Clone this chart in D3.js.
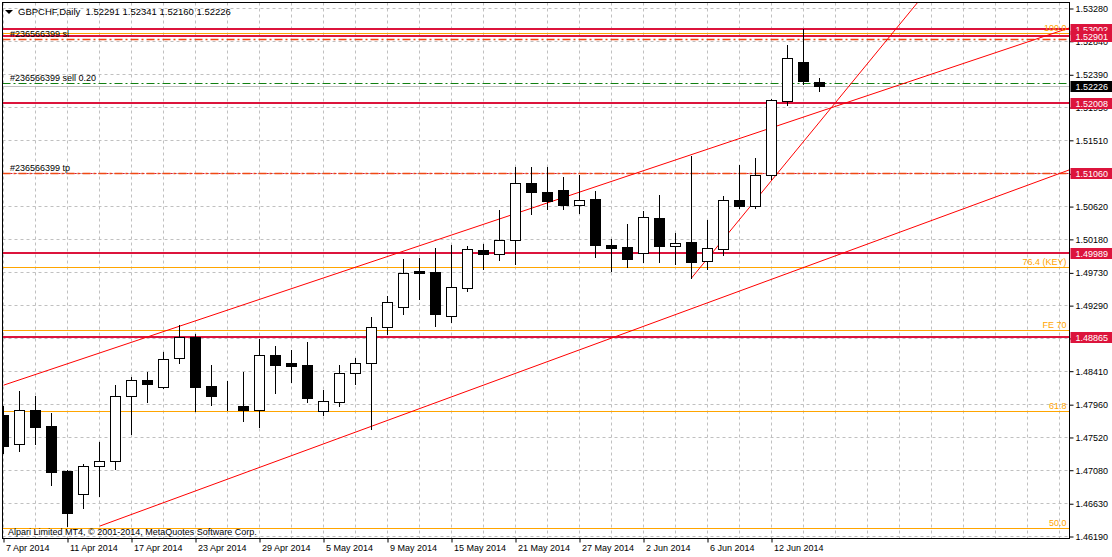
<!DOCTYPE html>
<meta charset="UTF-8">
<style>
body { margin: 0; background: #fff; }
svg text { font-family: "Liberation Sans", Arial, sans-serif; font-size: 9px; }
</style>
<body>
<script src="https://d3js.org/d3.v7.min.js"></script>
<script>

// daily bars, GBPCHF
var dates = ["2014-04-07","2014-04-08","2014-04-09","2014-04-10","2014-04-11","2014-04-14","2014-04-15","2014-04-16","2014-04-17","2014-04-18",
  "2014-04-21","2014-04-22","2014-04-23","2014-04-24","2014-04-25","2014-04-28","2014-04-29","2014-04-30","2014-05-01","2014-05-02",
  "2014-05-05","2014-05-06","2014-05-07","2014-05-08","2014-05-09","2014-05-12","2014-05-13","2014-05-14","2014-05-15","2014-05-16",
  "2014-05-19","2014-05-20","2014-05-21","2014-05-22","2014-05-23","2014-05-26","2014-05-27","2014-05-28","2014-05-29","2014-05-30",
  "2014-06-02","2014-06-03","2014-06-04","2014-06-05","2014-06-06","2014-06-09","2014-06-10","2014-06-11","2014-06-12","2014-06-13",
  "2014-06-16","2014-06-17"];
var open = [1.47815,1.47421,1.47882,1.47667,1.47063,1.46750,1.47126,1.47193,1.48066,1.48285,
  1.48187,1.48576,1.48858,1.48204,1.48097,1.47936,1.47886,1.48620,1.48513,1.48486,
  1.47873,1.47994,1.48375,1.48509,1.48992,1.49261,1.49742,1.49731,1.49144,1.49520,
  1.50026,1.49973,1.50161,1.50926,1.50805,1.50836,1.50631,1.50715,1.50098,1.50071,
  1.49994,1.50460,1.50088,1.50138,1.49879,1.50048,1.50702,1.50625,1.51033,1.52031,
  1.52551,1.52291];
var high = [1.47936,1.48137,1.48070,1.47842,1.47076,1.47157,1.47452,1.48218,1.48329,1.48396,
  1.48665,1.49019,1.48903,1.48486,1.48271,1.48396,1.48839,1.48741,1.48688,1.48795,
  1.48151,1.48486,1.48584,1.49131,1.49413,1.49906,1.49919,1.50053,1.50098,1.50084,
  1.50111,1.50568,1.51145,1.51145,1.51145,1.51011,1.51038,1.50823,1.50178,1.50384,
  1.50554,1.50769,1.50263,1.51293,1.50433,1.50756,1.51172,1.51270,1.52062,1.52783,
  1.53002,1.52341];
var low = [1.47305,1.47335,1.47425,1.46879,1.46324,1.46570,1.46731,1.47094,1.47560,1.47989,
  1.48180,1.48517,1.47869,1.47953,1.47886,1.47738,1.47658,1.48114,1.48258,1.47994,
  1.47819,1.47940,1.48235,1.47623,1.48903,1.49167,1.49368,1.49010,1.49064,1.49480,
  1.49779,1.49900,1.49838,1.50518,1.50581,1.50577,1.50531,1.49940,1.49748,1.49806,
  1.49869,1.49869,1.49846,1.49654,1.49779,1.49967,1.50598,1.50598,1.50988,1.51982,
  1.52255,1.52160];
var close = [1.47403,1.47882,1.47658,1.47053,1.46503,1.47130,1.47193,1.48066,1.48285,1.48235,
  1.48563,1.48858,1.48195,1.48074,1.48095,1.47886,1.48616,1.48490,1.48477,1.48047,
  1.47999,1.48375,1.48509,1.48992,1.49328,1.49718,1.49715,1.49171,1.49534,1.50040,
  1.49981,1.50161,1.50926,1.50805,1.50692,1.50639,1.50698,1.50094,1.50051,1.49914,
  1.50470,1.50088,1.50120,1.49873,1.50053,1.50698,1.50625,1.51033,1.52041,1.52605,
  1.52304,1.52226];

// price axis
var yTicks = [1.53280,1.52840,1.52390,1.51950,1.51510,1.51060,1.50620,1.50180,1.49730,
  1.49290,1.48850,1.48410,1.47960,1.47520,1.47080,1.46630,1.46190];

// objects on the chart
var levels = [1.53002, 1.52901, 1.52008, 1.49989, 1.48865];
var fibLevels = [1.52948, 1.49802, 1.48956, 1.47869, 1.46297];
var fibNames = ["100.0", "76.4 (KEY)", "FE 70", "61.8", "50.0"];
var orderNames = ["#236566399 sl", "#236566399 sell 0.20", "#236566399 tp"];
var orderPrices = [1.52860, 1.52270, 1.51060];
var orderColors = ["#f04a14", "#118011", "#f04a14"];
var trendStart = [[0, 1.48215], [6.03, 1.46324], [43, 1.49654]];
var trendEnd = [[66.6, 1.53011], [66.6, 1.51105], [57.16, 1.53361]];
var bid = 1.52226;

var W = 1112, H = 557;
var L = 2.5, T = 2.5, R = 1069.5, B = 538.5;

var svg = d3.select("body").append("svg")
    .attr("width", W)
    .attr("height", H);

var x = d3.scaleLinear().domain([0, 1]).range([3.5, 19.5]);
var y = d3.scaleLinear().domain([1.46190, 1.53280]).range([536, 8]);
function py(v) { return Math.round(y(v)) + 0.5; }

svg.append("clipPath").attr("id", "plot")
  .append("rect").attr("x", L).attr("y", T).attr("width", R - L).attr("height", B - T);

var plot = svg.append("g").attr("clip-path", "url(#plot)");

// grid
var gridX = d3.range(0, 67, 2);
plot.selectAll(".gx").data(gridX).enter().append("line")
    .attr("x1", d => x(d)).attr("x2", d => x(d))
    .attr("y1", T).attr("y2", B)
    .attr("stroke", "#c0c0c0").attr("stroke-dasharray", "3,3");
plot.selectAll(".gy").data(yTicks).enter().append("line")
    .attr("x1", L).attr("x2", R)
    .attr("y1", d => py(d)).attr("y2", d => py(d))
    .attr("stroke", "#c0c0c0").attr("stroke-dasharray", "3,3");

// fibo levels
plot.selectAll(".fib").data(fibLevels).enter().append("line")
    .attr("x1", L).attr("x2", R)
    .attr("y1", d => py(d)).attr("y2", d => py(d))
    .attr("stroke", "#ffa500");

// horizontal levels
plot.selectAll(".lvl").data(levels).enter().append("line")
    .attr("x1", L).attr("x2", R)
    .attr("y1", d => Math.round(y(d))).attr("y2", d => Math.round(y(d)))
    .attr("stroke", "#dc143c").attr("stroke-width", 2);

// order lines
plot.append("line")
    .attr("x1", L).attr("x2", R)
    .attr("y1", py(orderPrices[2])).attr("y2", py(orderPrices[2]))
    .attr("stroke", "#dc143c").attr("stroke-dasharray", "2,2");
plot.selectAll(".ord").data(orderPrices).enter().append("line")
    .attr("x1", L).attr("x2", R)
    .attr("y1", d => py(d)).attr("y2", d => py(d))
    .attr("stroke", (d, i) => orderColors[i])
    .attr("stroke-width", (d, i) => i == 1 ? 1 : 1.5)
    .attr("stroke-dasharray", "8,3,2,3");

// bid line
plot.append("line")
    .attr("x1", L).attr("x2", R)
    .attr("y1", py(bid)).attr("y2", py(bid))
    .attr("stroke", "#c0c0c0");

// trend lines
plot.selectAll(".trend").data(trendStart).enter().append("line")
    .attr("x1", d => x(d[0])).attr("y1", d => y(d[1]))
    .attr("x2", (d, i) => x(trendEnd[i][0])).attr("y2", (d, i) => y(trendEnd[i][1]))
    .attr("stroke", "#ff0000").attr("stroke-width", 1);

// candles
var bars = plot.selectAll(".bar").data(dates).enter().append("g");
bars.append("line")
    .attr("x1", (d, i) => x(i)).attr("x2", (d, i) => x(i))
    .attr("y1", (d, i) => Math.round(y(high[i])))
    .attr("y2", (d, i) => Math.round(y(low[i])) + 1)
    .attr("stroke", "#000");
bars.append("rect")
    .attr("x", (d, i) => x(i) - 5)
    .attr("width", 10)
    .attr("y", (d, i) => py(Math.max(open[i], close[i])))
    .attr("height", (d, i) => Math.max(0, py(Math.min(open[i], close[i])) - py(Math.max(open[i], close[i]))))
    .attr("fill", (d, i) => close[i] >= open[i] ? "#fff" : "#000")
    .attr("stroke", "#000");

// fibo labels
plot.selectAll(".fibl").data(fibLevels).enter().append("text")
    .attr("x", R - 3).attr("y", d => py(d) - 3)
    .attr("text-anchor", "end")
    .attr("fill", "#ffa500")
    .text((d, i) => fibNames[i]);

// order labels
plot.selectAll(".ordl").data(orderPrices).enter().append("text")
    .attr("x", 10).attr("y", d => py(d) - 3)
    .attr("fill", "#000")
    .text((d, i) => orderNames[i]);

// header
svg.append("path").attr("d", "M5,10 L13,10 L9,14 Z").attr("fill", "#000");
svg.append("text").attr("x", 18).attr("y", 15)
    .style("font-size", "9.5px")
    .style("white-space", "pre")
    .text("GBPCHF,Daily  " + [open, high, low, close].map(a => a[a.length - 1].toFixed(5)).join(" "));

svg.append("text").attr("x", 8).attr("y", 535)
    .text("Alpari Limited MT4, \u00a9 2001-2014, MetaQuotes Software Corp.");

// frame
svg.append("rect").attr("x", L).attr("y", T).attr("width", R - L).attr("height", B - T)
    .attr("fill", "none").attr("stroke", "#000");

// axes
var fmtDate = d3.timeFormat("%-d %b %Y"), parse = d3.timeParse("%Y-%m-%d");
var xAxis = d3.axisBottom(x)
    .tickValues(d3.range(0, dates.length, 4))
    .tickFormat(i => fmtDate(parse(dates[i])))
    .tickSize(4);
var gx = svg.append("g").attr("transform", "translate(0," + B + ")").call(xAxis);
gx.select(".domain").remove();
gx.selectAll("text").attr("text-anchor", "start").attr("dx", 2).attr("dy", "0.6em")
    .attr("fill", "#000").style("font-family", "Liberation Sans, Arial, sans-serif").style("font-size", "9px");
gx.selectAll("line").attr("stroke", "#000");

var yAxis = d3.axisRight(y).tickValues(yTicks).tickFormat(d3.format(".5f")).tickSize(4).tickPadding(2);
var gy = svg.append("g").attr("transform", "translate(" + R + ",0.5)").call(yAxis);
gy.select(".domain").remove();
gy.selectAll("text").attr("fill", "#000").style("font-family", "Liberation Sans, Arial, sans-serif").style("font-size", "9px");
gy.selectAll("line").attr("stroke", "#000");

// price tags
var tags = levels.concat([orderPrices[2], bid]);
var tg = svg.selectAll(".tag").data(tags).enter().append("g");
tg.append("rect")
    .attr("x", R + 1).attr("y", d => Math.round(y(d)) - 5)
    .attr("width", W - R).attr("height", 11)
    .attr("fill", d => d == bid ? "#000" : "#dc143c");
tg.append("text")
    .attr("x", R + 6).attr("y", d => Math.round(y(d)) + 4)
    .attr("fill", "#fff")
    .text(d => d.toFixed(5));

</script>
</body>
